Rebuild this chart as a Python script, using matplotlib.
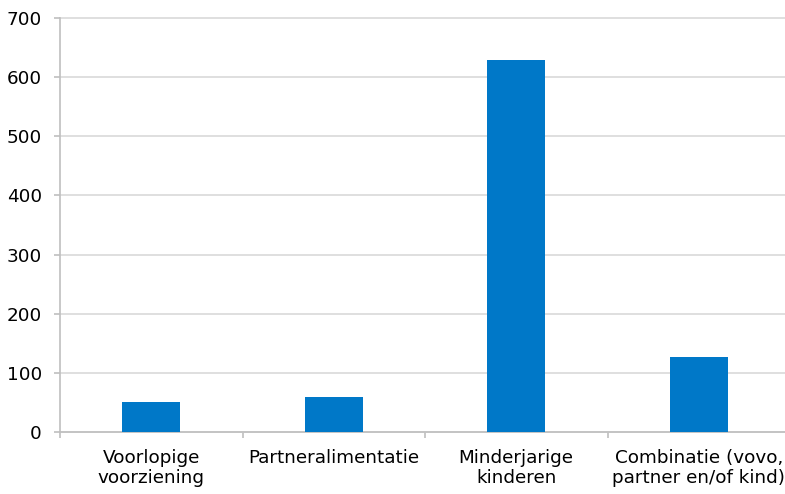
import matplotlib.pyplot as plt

# Categorieën en aantallen
categorieen = ['Voorlopige\nvoorziening', 'Partneralimentatie', 'Minderjarige\nkinderen',
               'Combinatie (vovo,\npartner en/of kind)']
aantallen = [51, 59, 629, 126]
y_ticks = [0, 100, 200, 300, 400, 500, 600, 700]

plt.rcParams['font.family'] = ['DejaVu Sans']

fig = plt.figure(figsize=(7.85, 4.94), dpi=100)
ax = fig.add_axes([60 / 785, 1 - 432 / 494, 730 / 785, 414 / 494])

posities = list(range(len(categorieen)))
ax.bar(posities, aantallen, width=0.32, color='#0078c8', zorder=3)

ax.set_xlim(-0.5, len(categorieen) - 0.5)
ax.set_ylim(0, 700)
ax.set_yticks(y_ticks)
ax.yaxis.grid(True, color='#d9d9d9', linewidth=1.2, zorder=0)
for lijn in ax.yaxis.get_gridlines():
    lijn.set_clip_on(False)

ax.set_xticks(posities)
ax.set_xticklabels(categorieen, fontsize=13.2, linespacing=1.2)
ax.set_xticks([p - 0.5 for p in posities] + [len(categorieen) - 0.5], minor=True)
ax.tick_params(axis='x', which='major', length=0, pad=12)
ax.tick_params(axis='x', which='minor', length=4, color='#bfbfbf', width=1.2)
ax.tick_params(axis='y', length=4, color='#bfbfbf', width=1.2, pad=9, labelsize=13.2)

for kant in ['top', 'right']:
    ax.spines[kant].set_visible(False)
for kant in ['left', 'bottom']:
    ax.spines[kant].set_color('#bfbfbf')
    ax.spines[kant].set_linewidth(1.2)

fig.savefig('out.png', dpi=100)
